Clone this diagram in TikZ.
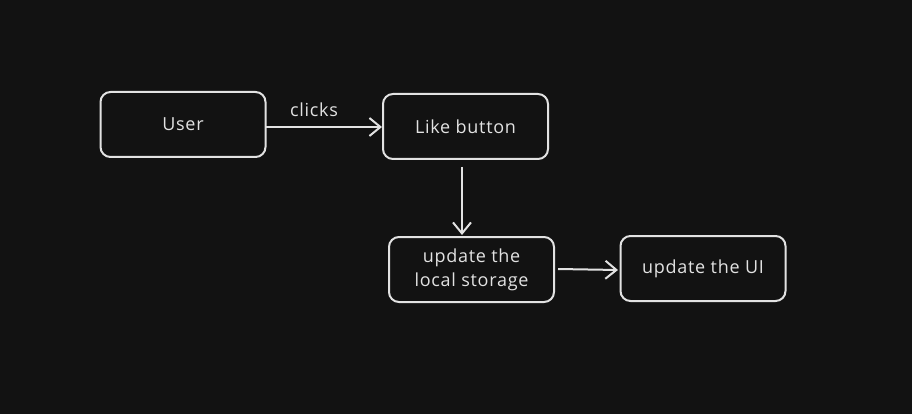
\documentclass[tikz,border=0pt]{standalone}
\usepackage{fontspec}
\setmainfont{Open Sans}[LetterSpace=4]
\usetikzlibrary{arrows.meta}
\definecolor{bg}{HTML}{121212}
\definecolor{ink}{HTML}{E2E2E2}
\begin{document}
\begin{tikzpicture}[x=1pt,y=-1pt,
  box/.style={draw=ink,line width=2pt,rounded corners=10pt,minimum width=165pt,minimum height=65pt,text=ink,align=center,font=\fontsize{18}{24}\selectfont,inner sep=0pt},
  conn/.style={draw=ink,line width=2pt,-{Straight Barb[length=11pt,width=18pt,line width=2pt]}},
  lbl/.style={text=ink,font=\fontsize{18}{24}\selectfont,inner sep=0pt}]
\fill[bg] (0,0) rectangle (912,414);
\useasboundingbox (0,0) rectangle (912,414);
\node[box] (user) at (183,124.5) {User};
\node[box] (like) at (465.5,126.5) {Like button};
\node[box] (store) at (471.5,269.5) {update the\\local storage};
\node[box] (ui) at (703,268.5) {update the UI};
\coordinate (a1) at (266,127);
\coordinate (a2) at (382,127);
\draw[conn] (a1) -- (a2);
\node[lbl] (clk) at (314,110) {clicks};
\coordinate (b1) at (462,167);
\coordinate (b2) at (462,235);
\draw[conn] (b1) -- (b2);
\coordinate (c1) at (558,269);
\coordinate (c2) at (618,270);
\draw[conn] (c1) -- (c2);
\end{tikzpicture}
\end{document}
